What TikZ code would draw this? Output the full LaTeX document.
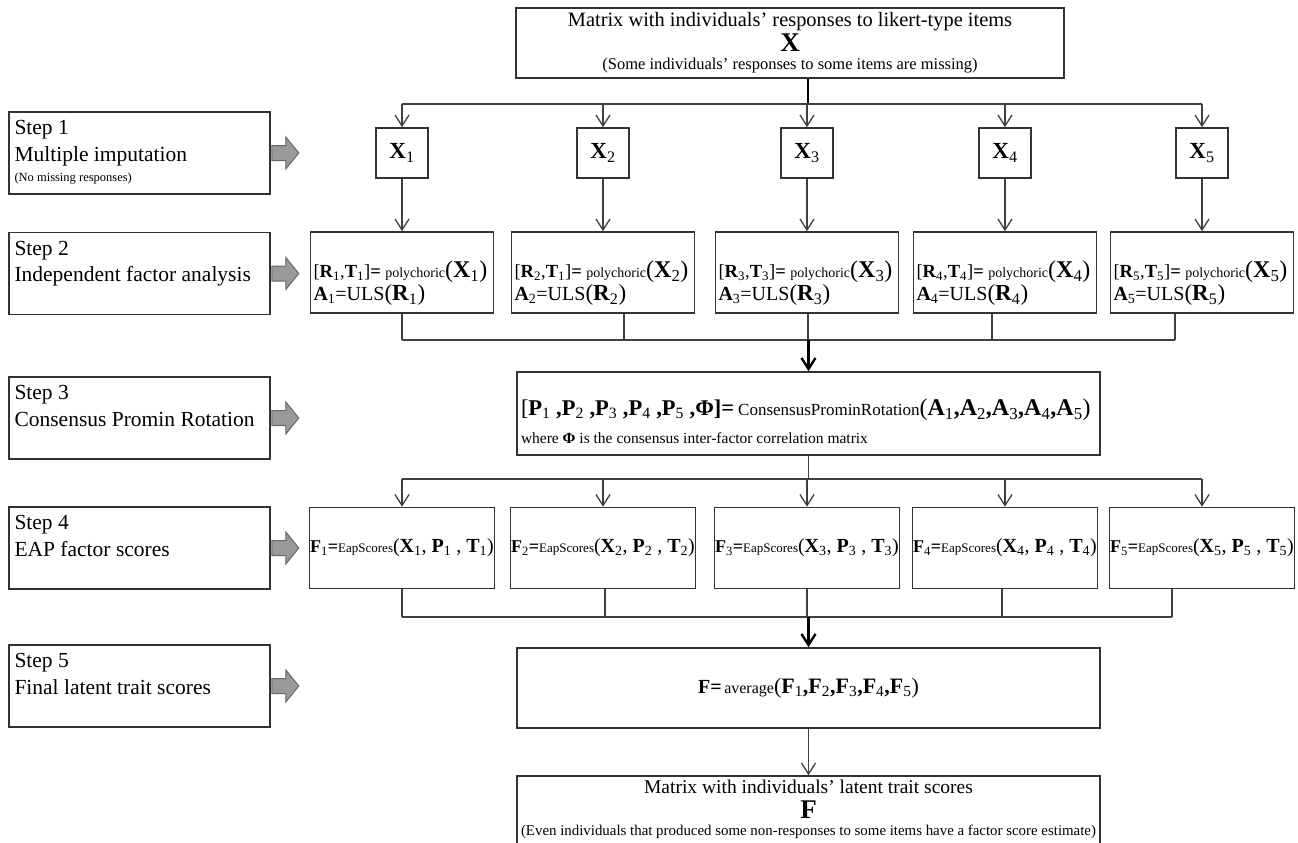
\documentclass[tikz,border=0pt]{standalone}
\usepackage{fontspec}
\setmainfont{Liberation Serif}
\usetikzlibrary{arrows.meta}
\newcommand{\miSize}[2]{\fontsize{#1}{#2}\selectfont}
\newcommand{\miB}[2]{\textbf{#1}\textsubscript{#2}}
\newcommand{\miStep}[2]{\parbox[c][74pt][t]{250pt}{\miSize{21.5}{26.5}\strut Step #1\\#2}}
\newcommand{\miPoly}[4]{\parbox[c][73pt][t]{177pt}{\miSize{18}{23}\vspace*{25pt}%
{\miSize{18.5}{23}[\miB{R}{#1},\miB{T}{#2}]\textbf{=}} {\miSize{14}{23}polychoric}{\miSize{24}{23}(\miB{X}{#3})}\\
{\miSize{20}{23}\miB{A}{#4}=ULS}{\miSize{23}{23}(\miB{R}{#4})}}}
\newcommand{\miEap}[1]{{\miSize{18}{20}\miB{F}{#1}\textbf{=}}{\miSize{13}{20}EapScores}{\miSize{20}{20}(\miB{X}{#1}, \miB{P}{#1} , \miB{T}{#1})}}
\newcommand{\miArrow}[1]{\draw[grayarrow] ([xshift=1pt]#1.east) ++(0,-7.5) -- ++(14,0) -- ++(0,-8.5) -- ++(13,16) -- ++(-13,16) -- ++(0,-8.5) -- ++(-14,0) -- cycle;}

\begin{document}
\begin{tikzpicture}[x=1pt,y=-1pt,
  box/.style={draw=black!80, line width=1.6pt, inner sep=0pt, fill=white},
  stepbox/.style={box, minimum width=261pt, minimum height=82pt, inner xsep=5pt},
  xbox/.style={box, minimum width=52pt, minimum height=50pt},
  fitbox/.style={box, minimum width=183pt, minimum height=81pt},
  eapbox/.style={box, minimum width=185pt, minimum height=81pt},
  widebox/.style={box, minimum width=583pt},
  wire/.style={draw=black!75, line width=1.3pt},
  flow/.style={wire, -{Straight Barb[length=11pt,width=14pt]}},
  bus/.style={draw=black, line width=2.4pt},
  busflow/.style={bus, -{Straight Barb[length=11pt,width=14pt]}},
  grayarrow/.style={fill=black!40, draw=black!60, line width=1pt}]
\useasboundingbox (0,0) rectangle (1298,843);
\fill[white] (0,0) rectangle (1298,843);

\node[stepbox] (s1) at (139.5,153) {\miStep{1}{Multiple imputation\\[-6pt]{\miSize{12.5}{15}(No missing responses)}}};
\node[stepbox] (s2) at (139.5,273.5) {\miStep{2}{Independent factor analysis}};
\node[stepbox] (s3) at (139.5,418) {\miStep{3}{Consensus Promin Rotation}};
\node[stepbox] (s4) at (139.5,548) {\miStep{4}{EAP factor scores}};
\node[stepbox] (s5) at (139.5,686) {\miStep{5}{Final latent trait scores}};
\foreach \s in {s1,s2,s3,s4,s5} {\miArrow{\s}}

\node[box, minimum width=548pt, minimum height=70pt] (top) at (790,43) {\parbox[c][66pt][t]{540pt}{\centering\miSize{20.4}{23}\strut Matrix with individuals’ responses to likert-type items\\{\miSize{27}{23}\textbf{X}}\\[-5pt]{\miSize{16.5}{18}(Some individuals’ responses to some items are missing)}}};

\foreach \i/\c in {1/402,2/603,3/807,4/1005,5/1202} {
  \node[xbox] (x\i) at (\c,153) {\miSize{23}{23}\miB{X}{\i}};
  \node[eapbox] (e\i) at (\c,548) {\miEap{\i}};
}
\node[fitbox] (r1) at (402,272.5) {\miPoly{1}{1}{1}{1}};
\node[fitbox] (r2) at (603,272.5) {\miPoly{2}{1}{2}{2}};
\node[fitbox] (r3) at (807,272.5) {\miPoly{3}{3}{3}{3}};
\node[fitbox] (r4) at (1005,272.5) {\miPoly{4}{4}{4}{4}};
\node[fitbox] (r5) at (1202,272.5) {\miPoly{5}{5}{5}{5}};

\node[widebox, minimum height=83pt] (cons) at (808.5,413.5) {\parbox[c][79pt][t]{575pt}{\miSize{15.5}{28}\vspace*{25pt}%
{\miSize{22.5}{28}[\miB{P}{1} \textbf{,}\miB{P}{2} \textbf{,}\miB{P}{3} \textbf{,}\miB{P}{4} \textbf{,}\miB{P}{5} \textbf{,Φ]=}} {\miSize{17}{28}ConsensusProminRotation}{\miSize{24}{28}(\miB{A}{1}\textbf{,}\miB{A}{2}\textbf{,}\miB{A}{3}\textbf{,}\miB{A}{4}\textbf{,}\miB{A}{5})}\\
{\miSize{15.5}{28}where \textbf{Φ} is the consensus inter-factor correlation matrix}}};
\node[widebox, minimum height=80pt] (avg) at (808.5,688) {{\miSize{20}{20}\textbf{F=}} {\miSize{16}{20}average}{\miSize{22}{22}(\miB{F}{1}\textbf{,}\miB{F}{2}\textbf{,}\miB{F}{3}\textbf{,}\miB{F}{4}\textbf{,}\miB{F}{5})}};
\node[widebox, minimum height=74pt] (final) at (808.5,813) {\parbox[c][70pt][t]{575pt}{\centering\miSize{19.5}{22}\strut Matrix with individuals’ latent trait scores\\{\miSize{27}{22}\textbf{F}}\\[-5pt]{\miSize{14.9}{17}(Even individuals that produced some non-responses to some items have a factor score estimate)}}};

\coordinate (busA) at (808,104);
\coordinate (busB) at (808.5,340);
\coordinate (busC) at (808.5,479);
\coordinate (busD) at (808.5,617);

\draw[bus] (top.south -| busA) -- (busA);
\draw[wire] (busA -| x1) -- (busA -| x5);
\foreach \i in {1,...,5} {
  \draw[flow] (busA -| x\i) -- (x\i);
  \draw[flow] (x\i) -- (r\i);
}
\foreach \i/\d in {1/0,2/21,3/1,4/-13,5/-27} {
  \path ([xshift=\d pt]r\i.south) coordinate (rb\i);
  \draw[wire] (rb\i) -- (rb\i |- busB);
}
\draw[wire] (rb1 |- busB) -- (rb5 |- busB);
\draw[busflow] (busB) -- (cons);

\draw[wire] (cons.south) -- (busC);
\draw[wire] (busC -| e1) -- (busC -| e5);
\foreach \i in {1,...,5} {
  \draw[flow] (busC -| e\i) -- (e\i);
}
\foreach \i/\d in {1/0,2/2,3/0,4/-3,5/-30} {
  \path ([xshift=\d pt]e\i.south) coordinate (eb\i);
  \draw[wire] (eb\i) -- (eb\i |- busD);
}
\draw[wire] (eb1 |- busD) -- (eb5 |- busD);
\draw[busflow] (busD) -- (avg);
\draw[flow] (avg) -- (final);
\end{tikzpicture}
\end{document}
